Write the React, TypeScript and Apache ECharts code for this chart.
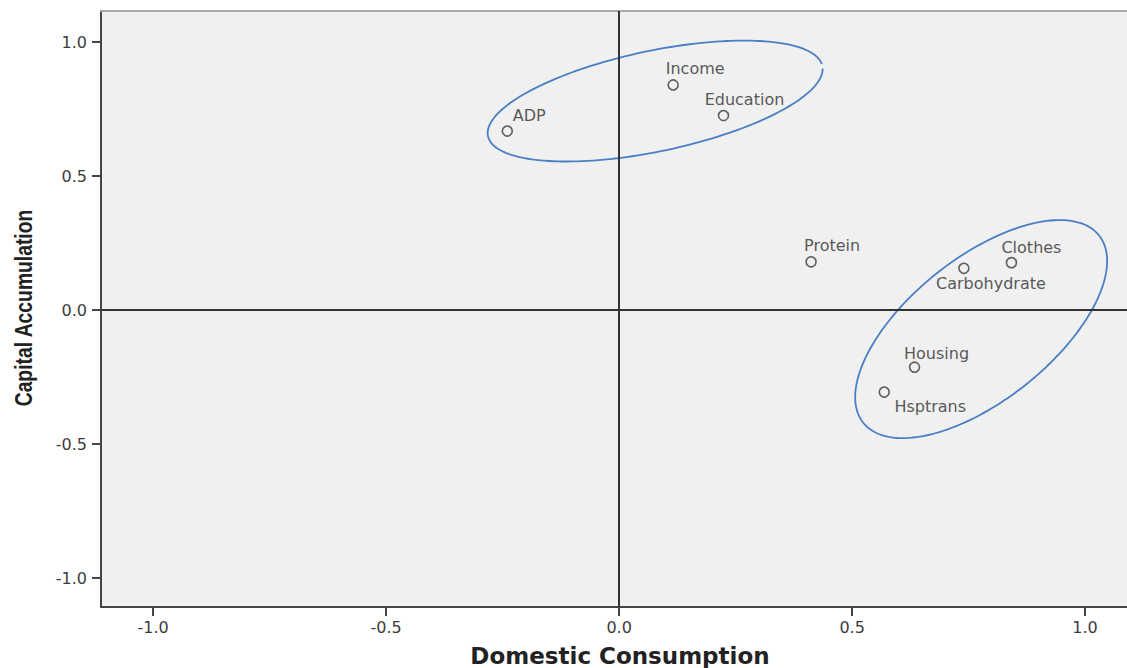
import React, { useEffect, useRef } from "react";
import * as echarts from "echarts";

// ---- data ----
const names = ["ADP", "Income", "Education", "Protein", "Carbohydrate", "Clothes", "Housing", "Hsptrans"];
const domesticConsumption = [-0.24, 0.116, 0.224, 0.412, 0.74, 0.842, 0.634, 0.569];
const capitalAccumulation = [0.668, 0.84, 0.726, 0.18, 0.156, 0.177, -0.213, -0.306];
const tickValues = [-1.0, -0.5, 0.0, 0.5, 1.0];

// cluster ellipses in data units: centre, major half-axis vector, minor half-axis vector
const ellipseCx = [0.0773, 0.777];
const ellipseCy = [0.78, -0.071];
const ellipseU = [[0.3588, 0.131], [0.2531, 0.3494]];
const ellipseV = [[0.0222, -0.1837], [0.0951, -0.2084]];
const ellipseGap = [[0.05, 0.04], [0, 0]];

// label placement (pixel offsets from the marker)
const labelOffset: Record<string, [number, number]> = {
  ADP: [22, -16],
  Income: [22, -16],
  Education: [21, -16],
  Protein: [21, -16],
  Carbohydrate: [27, 15],
  Clothes: [20, -15],
  Housing: [22, -14],
  Hsptrans: [46, 14],
};

export default function App() {
  const ref = useRef<HTMLDivElement>(null);
  useEffect(() => {
    if (!ref.current) return;
    const chart = echarts.init(ref.current, null, { renderer: "svg" });
    const xMin = -1.112, xMax = 1.09, yMin = -1.108, yMax = 1.116;
    const tickFont = { fontFamily: "DejaVu Sans", fontSize: 16, color: "#3c3c3c" };
    const points = names.map((n, i) => ({
      name: n,
      value: [domesticConsumption[i], capitalAccumulation[i]],
      label: { offset: labelOffset[n] },
    }));
    chart.setOption({
      animation: false,
      grid: {
        left: 101, top: 11, right: 0, bottom: 61,
        show: true, backgroundColor: "#f0f0f0", borderWidth: 0,
      },
      xAxis: [
        {
          type: "value", min: xMin, max: xMax, position: "bottom",
          axisLine: { show: true, onZero: false, lineStyle: { color: "#454545", width: 2 } },
          axisTick: { show: true, length: 9, customValues: tickValues, lineStyle: { color: "#454545", width: 2 } },
          axisLabel: { customValues: tickValues, margin: 12, formatter: (v: number) => v.toFixed(1), ...tickFont },
          splitLine: { show: false },
        },
        {
          type: "value", min: xMin, max: xMax, position: "top",
          axisLine: { show: true, onZero: false, lineStyle: { color: "#a8a8a8", width: 2 } },
          axisTick: { show: false }, axisLabel: { show: false }, splitLine: { show: false },
        },
      ],
      yAxis: {
        type: "value", min: yMin, max: yMax,
        axisLine: { show: true, onZero: false, lineStyle: { color: "#454545", width: 2 } },
        axisTick: { show: true, length: 9, customValues: tickValues, lineStyle: { color: "#454545", width: 2 } },
        axisLabel: { customValues: tickValues, margin: 14, formatter: (v: number) => v.toFixed(1), ...tickFont },
        splitLine: { show: false },
      },
      graphic: [
        {
          type: "text", x: 620, y: 656,
          style: {
            text: "Domestic Consumption", fontFamily: "DejaVu Sans", fontWeight: "bold",
            fontSize: 23, fill: "#222", align: "center", verticalAlign: "middle",
          },
        },
        {
          type: "text", x: 24, y: 308, rotation: Math.PI / 2, scaleX: 0.84,
          style: {
            text: "Capital Accumulation", fontFamily: "'Liberation Sans', Arial", fontWeight: "bold",
            fontSize: 23, fill: "#222", align: "center", verticalAlign: "middle",
          },
        },
      ],
      series: [
        {
          type: "scatter",
          xAxisIndex: 0,
          data: points,
          symbol: "circle",
          symbolSize: 10,
          itemStyle: { color: "rgba(0,0,0,0)", borderColor: "#3a3a3a", borderWidth: 1.6 },
          label: {
            show: true, formatter: "{b}", position: "inside", align: "center", verticalAlign: "middle",
            fontFamily: "DejaVu Sans", fontSize: 16, color: "#2e2e2e",
          },
          markLine: {
            silent: true, symbol: ["none", "none"], label: { show: false },
            lineStyle: { color: "#333", width: 2, type: "solid" },
            data: [{ xAxis: 0 }, { yAxis: 0 }],
          },
          z: 3,
        },
        {
          type: "custom",
          xAxisIndex: 0,
          data: ellipseCx.map((cx, i) => [cx, ellipseCy[i]]),
          renderItem: (params: any, api: any) => {
            const i = params.dataIndex;
            const cx = ellipseCx[i], cy = ellipseCy[i];
            const u = ellipseU[i], v = ellipseV[i];
            const [g0, g1] = ellipseGap[i];
            const steps = 180;
            const t0 = g0, t1 = Math.PI * 2 - g1;
            const pts: number[][] = [];
            for (let k = 0; k <= steps; k++) {
              const t = t0 + ((t1 - t0) * k) / steps;
              pts.push(api.coord([cx + u[0] * Math.cos(t) + v[0] * Math.sin(t), cy + u[1] * Math.cos(t) + v[1] * Math.sin(t)]));
            }
            return {
              type: "polyline",
              shape: { points: pts },
              style: { stroke: "#4a7fc3", lineWidth: 1.8, fill: null },
            };
          },
          z: 4,
        },
      ],
    });
    return () => chart.dispose();
  }, []);
  return (
    <div
      ref={ref}
      style={{ position: "absolute", left: 0, top: 0, width: 1127, height: 668, background: "#fff" }}
    />
  );
}
